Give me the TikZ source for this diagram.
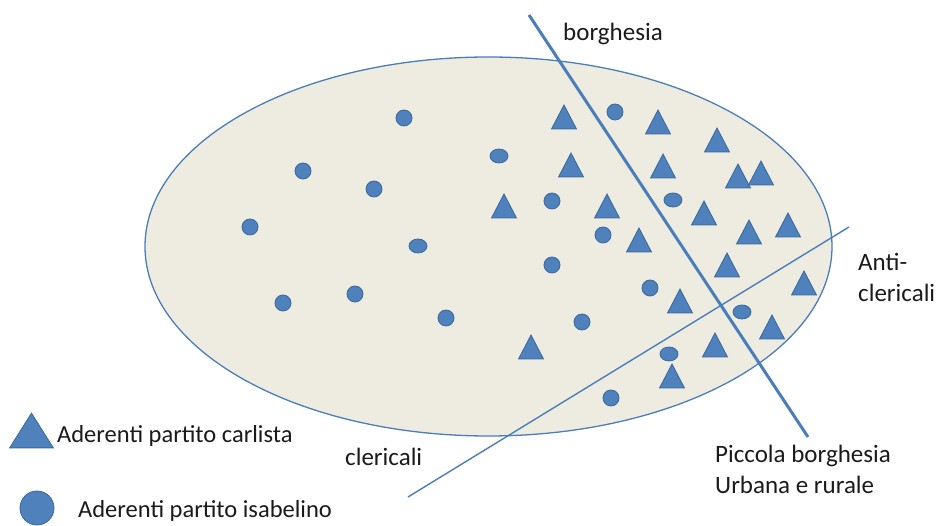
\documentclass[tikz,border=0pt]{standalone}
\usepackage{fontspec}
\setmainfont{Carlito}
\usetikzlibrary{shapes.geometric}
\definecolor{bluefill}{HTML}{4F81BD}
\definecolor{blueedge}{HTML}{3A679C}
\definecolor{paper}{HTML}{EEECE1}
\definecolor{lineblue}{HTML}{4A7EBB}
\definecolor{txt}{HTML}{1A1A1A}
\begin{document}
\begin{tikzpicture}[x=1pt,y=-1pt,
  dot/.style={circle,fill=bluefill,draw=blueedge,line width=0.8pt,inner sep=0pt,minimum size=16pt},
  oval/.style={ellipse,fill=bluefill,draw=blueedge,line width=0.8pt,inner sep=0pt,minimum width=18pt,minimum height=14pt},
  tri/.pic={\filldraw[fill=bluefill,draw=blueedge,line width=0.8pt] (-12.5,12) -- (0,-12) -- (12.5,12) -- cycle;},
  lbl/.style={font=\fontsize{25}{31}\selectfont,text=txt,inner sep=0pt,anchor=base west,align=left}]
\useasboundingbox (0,0) rectangle (938,526);

% main ellipse
\node[ellipse,draw=lineblue,fill=paper,line width=1.3pt,minimum width=687pt,minimum height=379pt,inner sep=0pt] (field) at (488.5,246.5) {};

% isabelino (circles)
\node[dot]  (c1)  at (404,118) {};
\node[dot]  (c2)  at (303,171) {};
\node[dot]  (c3)  at (374,189) {};
\node[oval] (c4)  at (499,156) {};
\node[dot]  (c5)  at (250,227) {};
\node[oval] (c6)  at (418,246) {};
\node[dot]  (c7)  at (552,201) {};
\node[dot]  (c8)  at (283,303) {};
\node[dot]  (c9)  at (355,294) {};
\node[dot]  (c10) at (446,318) {};
\node[dot]  (c11) at (552,265) {};
\node[dot]  (c12) at (603,235) {};
\node[dot]  (c13) at (615,112) {};
\node[oval] (c14) at (673,200) {};
\node[dot]  (c15) at (650,288) {};
\node[dot]  (c16) at (582,322) {};
\node[oval] (c17) at (742,312) {};
\node[oval] (c18) at (669,354) {};
\node[dot]  (c19) at (611,398) {};

% carlista (triangles)
\foreach \x/\y [count=\i] in {564/117,658/122,717/140,571/165,663/166,738/176,761/173,
  504/206,607/206,704/213,639/240,749/232,788/225,727/265,680/301,804/283,772/327,
  715/345,531/347,672/376}{
  \coordinate (t\i) at (\x,\y);
  \pic at (t\i) {tri};
}

% dividing lines
\coordinate (bA) at (529,15);
\coordinate (bB) at (808,437);
\coordinate (cA) at (408,497);
\coordinate (cB) at (849,227);
\draw[lineblue,line width=3pt] (bA) -- (bB);
\draw[lineblue,line width=1.4pt] (cA) -- (cB);

% labels
\node[lbl] (borg) at (563,41) {borghesia};
\node[lbl] (anti) at (858,302) {Anti-\\clericali};
\node[lbl] (cler) at (345,466) {clericali};
\node[lbl] (picc) at (715,494) {Piccola borghesia\\Urbana e rurale};

% legend
\coordinate (legT) at (31.5,430.5);
\pic[xscale=1.75,yscale=1.45] at (legT) {tri};
\node[dot,minimum size=34pt] (legC) at (37,508) {};
\node[lbl,font=\fontsize{24.5}{31}\selectfont] (legTt) at (57,443) {Aderenti partito carlista};
\node[lbl,font=\fontsize{24.5}{31}\selectfont] (legCt) at (78,518) {Aderenti partito isabelino};
\end{tikzpicture}
\end{document}
